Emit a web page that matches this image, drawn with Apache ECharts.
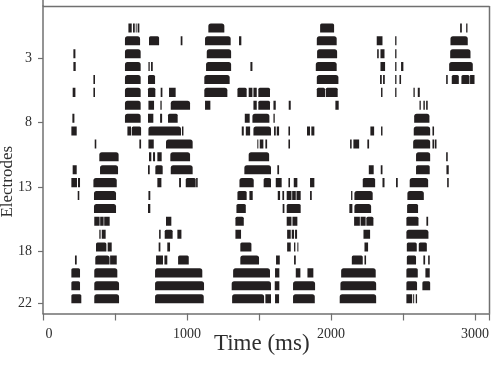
<!DOCTYPE html>
<html><head><meta charset="utf-8">
<style>html,body{margin:0;padding:0;background:#fff}#c{width:492px;height:386px}</style>
<script src="https://cdn.jsdelivr.net/npm/echarts@6/dist/echarts.min.js"></script>
</head><body><div id="c"></div>
<script>
// burst intervals [start ms, end ms] per electrode
const e1=[[593,616],[625,637],[644,650],[657,669],[1148,1259],[1924,2021],[2896,2908],[2938,2947]];
const e2=[[569,674],[736,806],[956,968],[1125,1303],[1361,1377],[1901,2039],[2317,2357],[2445,2454],[2829,2949]];
const e3=[[211,225],[569,678],[1137,1306],[1903,2042],[2320,2331],[2343,2371],[2445,2454],[2827,2968]];
const e4=[[211,227],[569,678],[732,741],[750,762],[1132,1306],[1440,1454],[1894,2039],[2343,2375],[2445,2454],[2486,2502],[2820,2984]];
const e5=[[350,361],[569,678],[729,778],[1120,1296],[1901,2051],[2340,2352],[2361,2373],[2445,2454],[2475,2486],[2799,2810],[2838,2887],[2905,2961],[2965,2996]];
const e6=[[206,225],[350,361],[569,678],[729,780],[817,829],[875,921],[1120,1280],[1350,1414],[1428,1454],[1461,1484],[1495,1576],[1901,1958],[1963,2046],[2347,2357],[2445,2454],[2572,2581],[2602,2616]];
const e7=[[569,678],[732,771],[815,824],[887,1021],[1125,1162],[1461,1484],[1495,1576],[1600,1616],[1706,1720],[2030,2053],[2614,2623],[2641,2651],[2660,2671]];
const e8=[[204,218],[569,678],[729,766],[813,827],[868,935],[1401,1435],[1454,1572],[1600,1609],[2577,2683]];
const e9=[[197,234],[586,611],[616,681],[732,958],[965,975],[1380,1394],[1408,1438],[1461,1583],[1604,1616],[1623,1639],[1704,1715],[1833,1854],[1863,1884],[2273,2299],[2347,2357],[2574,2688],[2704,2715]];
const e10=[[359,370],[669,681],[732,769],[854,1039],[1488,1495],[1505,1530],[1544,1556],[1704,1715],[2132,2143],[2155,2195],[2252,2264],[2570,2688],[2704,2715],[2720,2732]];
const e11=[[391,525],[736,752],[764,778],[794,824],[884,1021],[1428,1570],[2590,2688],[2799,2810]];
const e12=[[206,234],[396,521],[729,741],[780,831],[887,1039],[1398,1583],[1627,1639],[2262,2296],[2345,2357],[2590,2685],[2801,2817]];
const e13=[[197,236],[243,257],[350,512],[794,822],[945,958],[991,1060],[1063,1074],[1364,1463],[1532,1583],[1616,1657],[1704,1715],[1741,1766],[1854,1884],[2220,2306],[2357,2371],[2451,2463],[2546,2674],[2806,2817]];
const e14=[[241,252],[354,507],[732,745],[1350,1414],[1433,1456],[1630,1646],[1662,1674],[1692,1725],[1730,1755],[1760,1789],[1854,1866],[2139,2148],[2162,2289],[2530,2644]];
const e15=[[354,507],[729,745],[1343,1408],[1664,1676],[1692,1789],[2127,2148],[2162,2278],[2528,2604]];
const e16=[[356,393],[397,421],[425,463],[854,891],[1336,1394],[1692,1725],[1732,1766],[2160,2200],[2205,2240],[2245,2294],[2523,2607],[2662,2674]];
const e17=[[391,400],[408,435],[806,817],[845,900],[933,961],[1336,1375],[1695,1720],[1727,1743],[1750,1764],[2225,2271],[2523,2676]];
const e18=[[368,440],[449,477],[803,815],[863,882],[1370,1447],[1695,1720],[1743,1752],[1766,1773],[2232,2257],[2526,2595],[2609,2665]];
const e19=[[222,234],[363,462],[466,512],[785,833],[843,863],[938,1012],[1370,1500],[1618,1644],[1743,1755],[2144,2220],[2232,2243],[2526,2590],[2641,2653],[2674,2685]];
const e20=[[197,257],[356,516],[778,1106],[1320,1576],[1611,1641],[1755,1787],[1836,1877],[2070,2310],[2523,2602],[2655,2685]];
const e21=[[197,257],[356,528],[778,1118],[1310,1583],[1609,1641],[1736,1889],[2065,2313],[2523,2597],[2634,2688]];
const e22=[[197,266],[356,528],[778,1116],[1313,1535],[1544,1583],[1611,1639],[1736,1887],[2060,2313],[2523,2563],[2570,2577],[2588,2597]];
const electrodes=[e1,e2,e3,e4,e5,e6,e7,e8,e9,e10,e11,e12,e13,e14,e15,e16,e17,e18,e19,e20,e21,e22];
const xLabels=[0,1000,2000,3000];
const xTicks=[0,500,1000,1500,2000,2500,3000,3100];
const yLabels=[3,8,13,18,22];

const bursts=[];
electrodes.forEach((list,i)=>list.forEach(b=>bursts.push([b[0],b[1],i+1])));
const SPIKE=0.7, AXC='#707070', TXT='#2e2e2e';
const chart=echarts.init(document.getElementById('c'),null,{renderer:'canvas'});
chart.setOption({
  animation:false,
  backgroundColor:'#fff',
  grid:{left:43,right:2.5,top:6,bottom:72.5,show:false,outerBoundsMode:'none'},
  xAxis:{type:'value',min:0,max:3100,
    axisLine:{show:true,onZero:false,lineStyle:{color:AXC,width:1.5}},
    axisTick:{show:true,length:7,customValues:xTicks,lineStyle:{color:AXC,width:1.2}},
    splitLine:{show:false},
    axisLabel:{show:true,customValues:xLabels,margin:14,color:TXT,fontFamily:'Liberation Serif',fontSize:14,
      formatter:v=>v===0?'{z|0}':String(v),rich:{z:{padding:[0,0,0,12],fontFamily:'Liberation Serif',fontSize:14,color:TXT}}},
    name:'Time (ms)',nameLocation:'middle',nameGap:19,nameMoveOverlap:false,
    nameTextStyle:{fontFamily:'Liberation Serif',fontSize:23,color:TXT,padding:[0,9,0,0]}},
  yAxis:{type:'value',inverse:true,min:-1.05,max:22.8,
    axisLine:{show:true,onZero:false,lineStyle:{color:AXC,width:1.5}},
    axisTick:{show:true,length:5,customValues:yLabels,lineStyle:{color:AXC,width:1.2}},
    splitLine:{show:false},
    axisLabel:{show:true,customValues:yLabels,margin:11,color:TXT,fontFamily:'Liberation Serif',fontSize:14},
    name:'Electrodes',nameLocation:'middle',nameGap:27,nameMoveOverlap:false,
    nameTextStyle:{fontFamily:'Liberation Serif',fontSize:17,color:TXT,padding:[0,44,0,0]}},
  series:[{type:'custom',coordinateSystem:'cartesian2d',clip:true,
    encode:{x:[0,1],y:2},
    data:bursts,
    renderItem:(p,api)=>{
      const a=api.coord([api.value(0),api.value(2)]);
      const b=api.coord([api.value(1),api.value(2)-SPIKE]);
      const w=b[0]-a[0],h=a[1]-b[1];
      const r=w>14?2.5:(w>7?1.5:0);
      return {type:'rect',shape:{x:a[0],y:b[1],width:w,height:h,r:[r,r,0,0]},style:{fill:'#231f20'}};
    }}],
  graphic:[{type:'line',silent:true,shape:{x1:43,y1:6.5,x2:489.5,y2:6.5},style:{stroke:AXC,lineWidth:1.5}},
           {type:'line',silent:true,shape:{x1:43,y1:0,x2:43,y2:6.5},style:{stroke:AXC,lineWidth:1.5}},
           {type:'line',silent:true,shape:{x1:489.5,y1:6,x2:489.5,y2:313.5},style:{stroke:AXC,lineWidth:1.5}}]
});
</script></body></html>
